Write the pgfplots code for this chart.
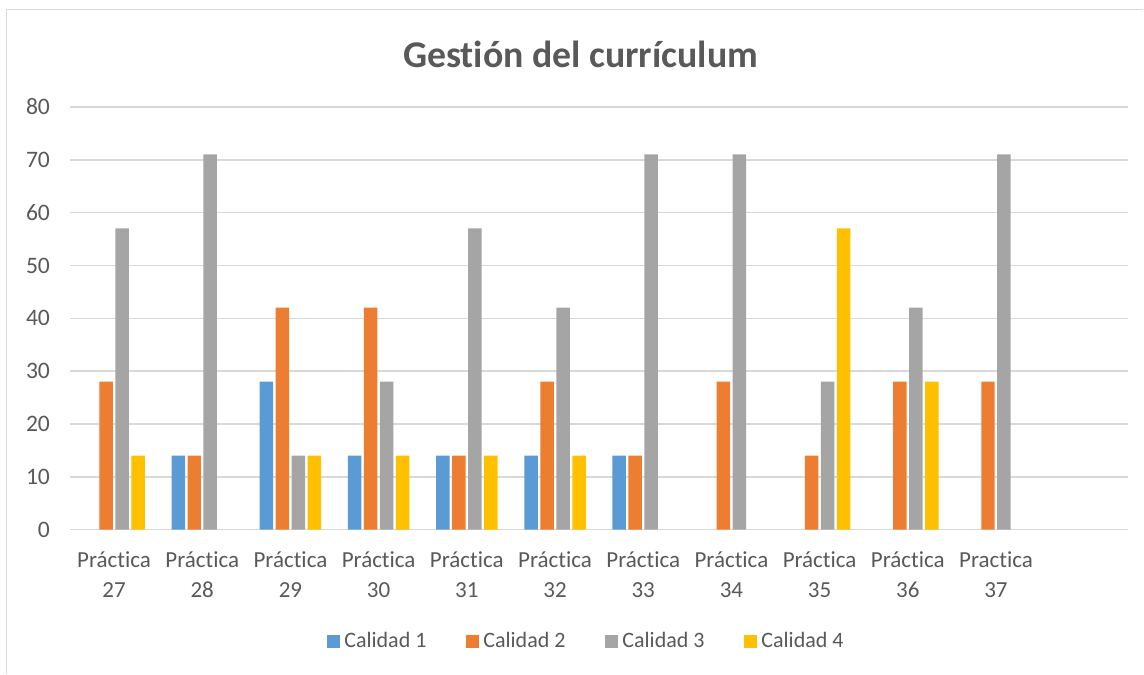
\documentclass[border=0pt]{standalone}
\usepackage{pgfplots}
\pgfplotsset{compat=1.18}
\usepackage{fontspec}
\setmainfont{Carlito}[Ligatures=NoCommon]
\definecolor{c1}{HTML}{5B9BD5}
\definecolor{c2}{HTML}{ED7D31}
\definecolor{c3}{HTML}{A5A5A5}
\definecolor{c4}{HTML}{FFC000}
\definecolor{txt}{HTML}{595959}
\definecolor{gridc}{HTML}{D9D9D9}
\begin{document}
\begin{tikzpicture}
\path (0,0) rectangle (572bp,337bp);
\draw[gridc, line width=0.75bp] (3.25bp,0) -- (3.25bp,332.25bp) -- (572bp,332.25bp);
\begin{axis}[
  at={(35bp,72bp)}, anchor=south west,
  scale only axis, width=529.5bp, height=211.5bp,
  ybar=1.25bp, bar width=6.75bp,
  xmin=-0.5, xmax=11.5, ymin=0, ymax=80,
  xtick={0,...,10},
  xticklabels={{Práctica\\27},{Práctica\\28},{Práctica\\29},{Práctica\\30},{Práctica\\31},{Práctica\\32},{Práctica\\33},{Práctica\\34},{Práctica\\35},{Práctica\\36},{Practica\\37}},
  ytick={0,10,...,80},
  axis line style={draw=none},
  major tick length=0pt,
  ymajorgrids=true, xmajorgrids=false,
  y grid style={draw=gridc, line width=0.75bp},
  xticklabel style={align=center, font=\fontsize{11.5bp}{15bp}\selectfont, text=txt, yshift=-7.5bp},
  yticklabel style={font=\fontsize{11.8bp}{14bp}\selectfont, text=txt, xshift=-6.5bp},
  /pgf/number format/assume math mode=true,
  title={Gestión del currículum},
  title style={at={(0.4825,1.095)}, anchor=center, font=\bfseries\fontsize{18.9bp}{23bp}\selectfont, text=txt},
  legend columns=4,
  legend style={at={(0.489,-0.265)}, anchor=center, draw=none, font=\fontsize{11bp}{13bp}\selectfont, text=txt,
    /tikz/every even column/.append style={column sep=18bp}},
  legend image code/.code={\fill[#1] (0bp,-3.25bp) rectangle (6.5bp,3.25bp);},
  every axis plot/.append style={draw=none},
]
\addplot[fill=c1] coordinates {(1,14) (2,28) (3,14) (4,14) (5,14) (6,14)};
\addplot[fill=c2] coordinates {(0,28) (1,14) (2,42) (3,42) (4,14) (5,28) (6,14) (7,28) (8,14) (9,28) (10,28)};
\addplot[fill=c3] coordinates {(0,57) (1,71) (2,14) (3,28) (4,57) (5,42) (6,71) (7,71) (8,28) (9,42) (10,71)};
\addplot[fill=c4] coordinates {(0,14) (2,14) (3,14) (4,14) (5,14) (8,57) (9,28)};
\legend{Calidad 1, Calidad 2, Calidad 3, Calidad 4}
\end{axis}
\end{tikzpicture}
\end{document}
